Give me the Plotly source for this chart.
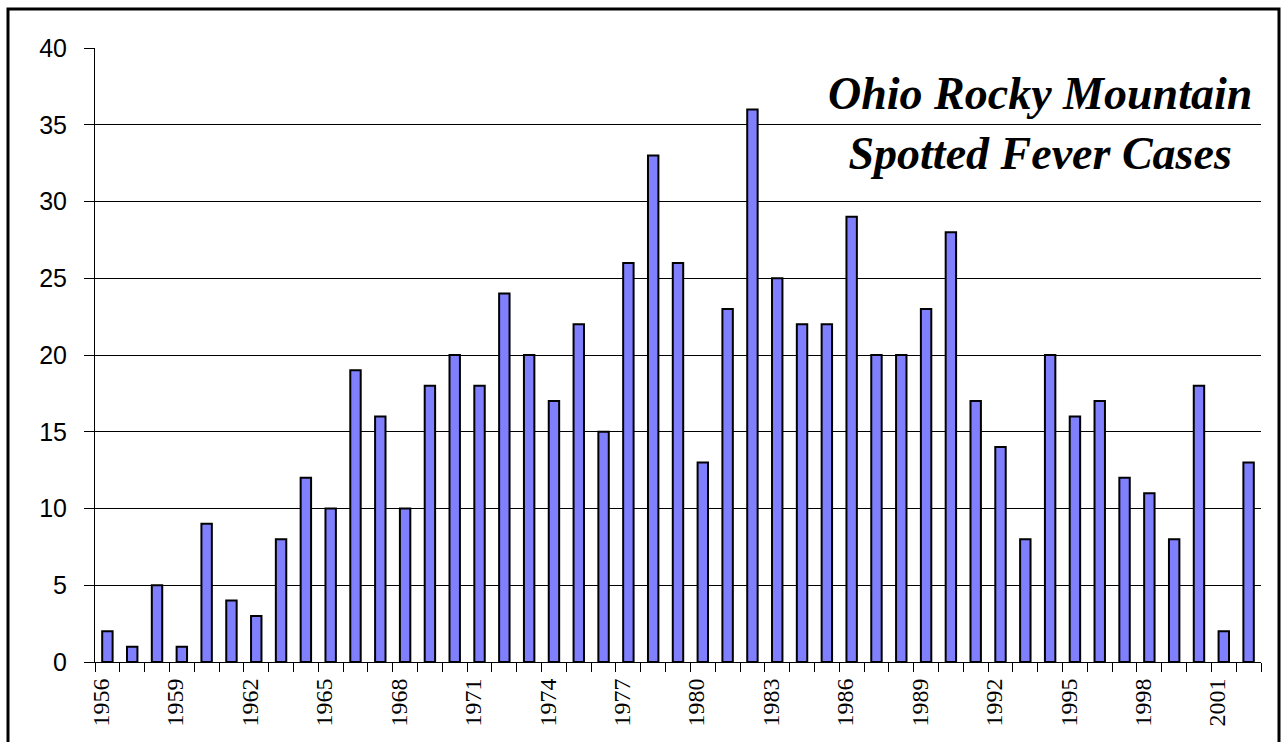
import plotly.graph_objects as go

years = list(range(1956, 2003))
cases = [2, 1, 5, 1, 9, 4, 3, 8, 12, 10,
         19, 16, 10, 18, 20, 18, 24, 20, 17, 22,
         15, 26, 33, 26, 13, 23, 36, 25, 22, 22,
         29, 20, 20, 23, 28, 17, 14, 8, 20, 16,
         17, 12, 11, 8, 18, 2, 13]
label_years = list(range(1956, 2002, 3))
label_text = [str(y) for y in label_years]
y_ticks = list(range(0, 41, 5))
title_lines = ["Ohio Rocky Mountain", "Spotted Fever Cases"]

W, H = 1283, 742
ml, mr, mt, mb = 95, 22, 48, 80
pw, ph = W - ml - mr, H - mt - mb

fig = go.Figure()
fig.add_trace(go.Bar(
    x=years, y=cases,
    marker=dict(color="#8080FF", line=dict(color="black", width=2)),
    width=0.42,
    hoverinfo="x+y",
))

fig.update_layout(
    width=W, height=H,
    margin=dict(l=ml, r=mr, t=mt, b=mb, autoexpand=False),
    paper_bgcolor="white", plot_bgcolor="white",
    showlegend=False,
    font=dict(family="Liberation Serif, Times New Roman, serif", color="black"),
)

fig.update_xaxes(
    range=[years[0] - 0.5, years[-1] + 0.5],
    tickmode="array",
    tickvals=[y - 0.25 for y in label_years],
    ticktext=label_text,
    tickangle=-90,
    ticks="",
    ticklabelstandoff=6,
    tickfont=dict(family="Liberation Serif, Times New Roman, serif", size=24, color="black"),
    showgrid=False, zeroline=False,
    showline=True, linecolor="black", linewidth=1,
    minor=dict(ticks="outside", tick0=years[0] - 0.5, dtick=1, ticklen=9,
               tickcolor="black", tickwidth=1, showgrid=False),
    fixedrange=True,
)

fig.update_yaxes(
    range=[0, 40],
    tickmode="array", tickvals=y_ticks,
    ticks="outside", ticklen=10, tickcolor="black", tickwidth=1,
    tickfont=dict(family="Liberation Sans, Arial, sans-serif", size=25, color="black"),
    ticklabelstandoff=12,
    showgrid=True, gridcolor="black", gridwidth=1,
    zeroline=False,
    showline=True, linecolor="black", linewidth=1,
    fixedrange=True,
)

# outer frame
fig.add_shape(
    type="rect", xref="paper", yref="paper",
    x0=(8 - ml) / pw, x1=(1279 - ml) / pw,
    y0=(H - mb - 780) / ph, y1=(H - mb - 9) / ph,
    line=dict(color="black", width=3), fillcolor="rgba(0,0,0,0)", layer="above",
)

fig.add_annotation(
    xref="paper", yref="paper",
    x=(1040 - ml) / pw, y=(H - mb - 123) / ph,
    text="<b><i>" + "<br>".join(title_lines) + "</i></b>",
    showarrow=False, align="center",
    xanchor="center", yanchor="middle",
    font=dict(family="Liberation Serif, Times New Roman, serif", size=46, color="black"),
)

fig.write_html(
    "out.html",
    config={"displayModeBar": False},
    post_script="document.body.style.margin='0';document.body.style.overflow='hidden';",
)
